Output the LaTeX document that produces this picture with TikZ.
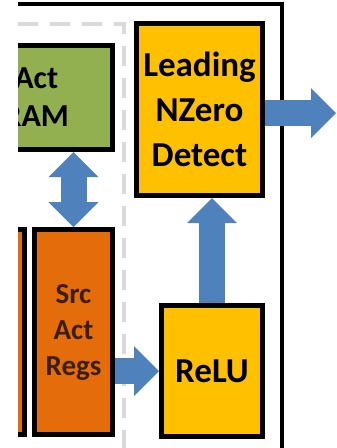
\documentclass[tikz,border=0pt]{standalone}
\usepackage{fontspec}
\setmainfont{Carlito}
\usetikzlibrary{arrows.meta}
\definecolor{ramgreen}{HTML}{92B050}
\definecolor{lnzyellow}{HTML}{FFC000}
\definecolor{regorange}{HTML}{E46C0A}
\definecolor{flowblue}{HTML}{4F81BD}
\definecolor{splitgray}{HTML}{D9D9D9}
\definecolor{regtext}{HTML}{3A1E08}
\begin{document}
\begin{tikzpicture}[x=1pt,y=-1pt,>={Triangle[width=50pt,length=25pt,line width=0pt]},
	blk/.style={draw=black,line width=5pt,inner sep=0pt,align=center,font=\bfseries\fontsize{35}{45}\selectfont},
	smallblk/.style={blk,text=regtext,font=\bfseries\fontsize{29}{36}\selectfont},
	flow/.style={draw=flowblue,fill=flowblue,line width=26pt},
	split/.style={draw=splitgray,line width=4pt,dash pattern=on 20pt off 12pt}]
	\useasboundingbox (0,0) rectangle (337,448);
	\clip (18,0) rectangle (337,448);
	% frame and pipeline split
	\draw[line width=4pt] (18,4) -- (282,4) -- (282,448);
	\draw[split] (18,24) -- (124,24) -- (124,448);
	% blocks
	\node[blk,fill=ramgreen,minimum width=152.5pt,minimum height=104pt,font=\bfseries\fontsize{32}{38}\selectfont] (ram) at (36.25,97.5) {Act\\RAM};
	\node[blk,fill=regorange,minimum width=72pt,minimum height=205pt] (dst) at (-11.5,332) {};
	\node[smallblk,fill=regorange,minimum width=78pt,minimum height=205pt] (src) at (73.5,332) {Src\\Act\\Regs};
	\node[blk,fill=lnzyellow,minimum width=126pt,minimum height=172pt] (lnz) at (199.5,109.5) {Leading\\NZero\\Detect};
	\node[blk,fill=lnzyellow,minimum width=101pt,minimum height=131pt] (relu) at (212,371) {ReLU};
	\coordinate (out) at (336,113);
	% data flow
	\draw[flow,<->] (src.north) -- (src.north |- ram.south);
	\draw[flow,->] (src.east |- relu.west) -- (relu.west);
	\draw[flow,->] (relu.north) -- (relu.north |- lnz.south);
	\draw[flow,->] (lnz.east |- out) -- (out);
\end{tikzpicture}
\end{document}
